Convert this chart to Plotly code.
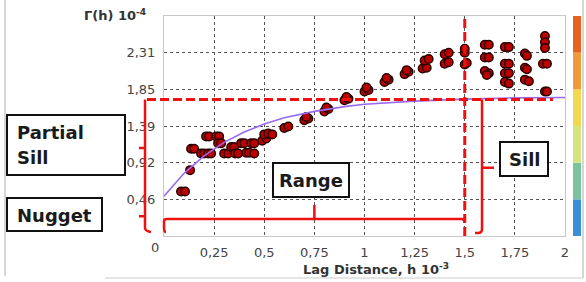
import plotly.graph_objects as go

# ---- data ----
lag_h = [0.085, 0.105, 0.13, 0.135, 0.15, 0.185, 0.20, 0.21, 0.225, 0.26, 0.275,
         0.22, 0.235, 0.27, 0.285, 0.30, 0.32, 0.335, 0.35, 0.355, 0.37,
         0.385, 0.40, 0.41, 0.425, 0.435, 0.45, 0.45,
         0.49, 0.51, 0.50, 0.52, 0.54, 0.60, 0.62, 0.70, 0.72, 0.71,
         0.80, 0.82, 0.81, 0.90, 0.92, 0.91, 1.00, 1.02, 1.01,
         1.10, 1.12, 1.11, 1.20, 1.22, 1.21, 1.29, 1.31, 1.30, 1.32,
         1.40, 1.42, 1.40, 1.42, 1.50, 1.50, 1.50, 1.51,
         1.60, 1.62, 1.60, 1.62, 1.60, 1.62, 1.61,
         1.70, 1.72, 1.70, 1.72, 1.70, 1.72, 1.70, 1.72,
         1.80, 1.81, 1.80, 1.81, 1.80, 1.82,
         1.90, 1.90, 1.90, 1.89, 1.91, 1.90, 1.91]
gamma = [0.56, 0.56, 0.83, 1.10, 1.10, 1.04, 1.04, 1.255, 1.255, 1.255, 1.255,
         1.04, 1.04, 1.17, 1.17, 1.04, 1.04, 1.12, 1.12, 1.04, 1.04,
         1.17, 1.17, 1.05, 1.05, 1.17, 1.17, 1.04,
         1.20, 1.23, 1.28, 1.29, 1.28, 1.36, 1.38, 1.46, 1.48, 1.50,
         1.57, 1.60, 1.62, 1.71, 1.73, 1.75, 1.82, 1.84, 1.87,
         1.94, 1.97, 1.99, 2.04, 2.07, 2.09, 2.11, 2.12, 2.21, 2.23,
         2.17, 2.19, 2.29, 2.31, 2.31, 2.36, 2.16, 2.18,
         2.41, 2.41, 2.25, 2.25, 2.08, 2.05, 2.03,
         2.38, 2.38, 2.17, 2.17, 2.05, 2.05, 1.94, 1.92,
         2.30, 2.27, 2.12, 2.10, 1.97, 1.95,
         2.52, 2.44, 2.37, 2.17, 2.17, 1.82, 1.82]

model_h = [0, 0.1, 0.2, 0.3, 0.4, 0.5, 0.6, 0.75, 0.9, 1.0, 1.25, 1.5, 1.75, 2.0]
model_g = [0.50, 0.79, 1.01, 1.18, 1.31, 1.41, 1.49, 1.57, 1.63, 1.66, 1.70, 1.725, 1.74, 1.745]

x_ticks = [0.25, 0.5, 0.75, 1, 1.25, 1.5, 1.75, 2]
x_tick_text = ["0,25", "0,5", "0,75", "1", "1,25", "1,5", "1,75", "2"]
y_ticks = [0.462, 0.924, 1.386, 1.848, 2.31]
y_tick_text = ["0,46", "0,92", "1,39", "1,85", "2,31"]

nugget = 0.5
sill = 1.72
range_h = 1.5
y_max = 2.772
x_max = 2.0
band_colors = ["#3a8fd8", "#7cc29e", "#d6e47e", "#f0d850", "#f09a3c", "#e8641e"]

# ---- layout geometry (pixels) ----
W, H = 586, 282
L, R, T, B = 164, 21, 16, 46
PW, PH = W - L - R, H - T - B


def PX(px):
    return (px - L) / PW


def PY(py):
    return (H - B - py) / PH


def xp(v):
    return v / x_max


def yp(v):
    return v / y_max


dx = 1 / PW
dy = 1 / PH

fig = go.Figure()
fig.add_trace(go.Scatter(
    x=lag_h, y=gamma, mode="markers",
    marker=dict(size=8.5, color="#bb0000", line=dict(color="#2a0000", width=1.5)),
    showlegend=False, cliponaxis=False))
fig.add_trace(go.Scatter(
    x=model_h, y=model_g, mode="lines",
    line=dict(color="#9a6af0", width=1.6), showlegend=False))

RED = "#ee1111"
shapes = []
# colour bar
for i, c in enumerate(band_colors):
    shapes.append(dict(type="rect", xref="paper", yref="paper",
                       x0=PX(573), x1=PX(581), y0=i / 6, y1=(i + 1) / 6,
                       line=dict(width=0), fillcolor=c))
# outer frame
shapes.append(dict(type="line", xref="paper", yref="paper", x0=PX(5), x1=PX(5),
                   y0=PY(0), y1=PY(276), line=dict(color="#c8c8c8", width=1.5)))
shapes.append(dict(type="line", xref="paper", yref="paper", x0=PX(583), x1=PX(583),
                   y0=PY(0), y1=PY(278), line=dict(color="#c8c8c8", width=1.5)))
shapes.append(dict(type="line", xref="paper", yref="paper", x0=PX(105), x1=PX(583),
                   y0=PY(278), y1=PY(278), line=dict(color="#dddddd", width=1.5)))

# sill dashed line
shapes.append(dict(type="line", xref="paper", yref="paper", x0=PX(147), x1=xp(1.94),
                   y0=yp(sill), y1=yp(sill), line=dict(color=RED, width=3, dash="9px,4px")))
# range dashed line
shapes.append(dict(type="line", xref="paper", yref="paper", x0=xp(range_h), x1=xp(range_h),
                   y0=0, y1=1, line=dict(color=RED, width=3, dash="9px,4px")))

# left brace (partial sill + nugget)
xl = PX(145)
yb = PY(231)
mid_ps = yp((sill + nugget) / 2)
mid_ng = yp(nugget / 2)
path = (f"M{xl},{yp(sill)} L{xl},{yb + 3*dy} Q{xl},{yb} {xl + 6*dx},{yb - 1*dy} "
        f"M{xl},{mid_ps} L{xl - 6*dx},{mid_ps} "
        f"M{xl},{mid_ng} L{xl - 6*dx},{mid_ng}")
shapes.append(dict(type="path", xref="paper", yref="paper", path=path,
                   line=dict(color=RED, width=2.5)))

# range brace
yr = PY(219)
ybot = PY(232)
path = (f"M{xp(0) + 2*dx},{ybot} Q{xp(0)},{ybot} {xp(0)},{ybot + 4*dy} L{xp(0)},{yr - 2*dy} "
        f"Q{xp(0)},{yr} {xp(0) + 3*dx},{yr} L{xp(range_h) - 3*dx},{yr} "
        f"Q{xp(range_h)},{yr} {xp(range_h)},{yr - 4*dy} "
        f"M{xp(range_h / 2)},{yr} L{xp(range_h / 2)},{PY(205)}")
shapes.append(dict(type="path", xref="paper", yref="paper", path=path,
                   line=dict(color=RED, width=2.5)))

# sill brace
xs = PX(482)
ys_mid = yp(sill / 2)
path = (f"M{xs},{yp(sill)} L{xs},{PY(229)} Q{xs},{PY(233)} {xs - 4*dx},{PY(233)} L{PX(475)},{PY(233)} "
        f"M{xs},{ys_mid} L{PX(494)},{ys_mid}")
shapes.append(dict(type="path", xref="paper", yref="paper", path=path,
                   line=dict(color=RED, width=2.5)))

# label boxes
for (x0, x1, y0, y1) in [(7, 125, 115, 175), (7, 102, 198, 231), (273, 349, 163, 197), (500, 548, 142, 176)]:
    shapes.append(dict(type="rect", xref="paper", yref="paper",
                       x0=PX(x0), x1=PX(x1), y0=PY(y1), y1=PY(y0),
                       line=dict(color="#111111", width=2), fillcolor="white"))

BOXFONT = dict(family="DejaVu Sans", size=18, color="#1a1a1a")
annotations = [
    dict(text="<b>Partial</b>", x=PX(15), y=PY(132), xanchor="left", yanchor="middle"),
    dict(text="<b>Sill</b>", x=PX(15), y=PY(157), xanchor="left", yanchor="middle"),
    dict(text="<b>Nugget</b>", x=PX(15), y=PY(215), xanchor="left", yanchor="middle"),
    dict(text="<b>Range</b>", x=PX(311), y=PY(180), xanchor="center", yanchor="middle"),
    dict(text="<b>Sill</b>", x=PX(524), y=PY(159), xanchor="center", yanchor="middle"),
]
for a in annotations:
    a.update(xref="paper", yref="paper", showarrow=False, font=BOXFONT)

annotations += [
    dict(text="<b>Γ(h) 10<sup>-4</sup></b>", x=PX(148), y=PY(15), xanchor="right", yanchor="middle",
         xref="paper", yref="paper", showarrow=False,
         font=dict(family="DejaVu Sans", size=13, color="#333333")),
    dict(text="<b>Lag Distance, h 10<sup>-3</sup></b>", x=PX(376), y=PY(269), xanchor="center",
         yanchor="middle", xref="paper", yref="paper", showarrow=False,
         font=dict(family="DejaVu Sans", size=13, color="#333333")),
    dict(text="0", x=PX(155), y=PY(247), xanchor="center", yanchor="middle",
         xref="paper", yref="paper", showarrow=False,
         font=dict(family="DejaVu Sans", size=13, color="#444444")),
]

fig.update_layout(
    width=W, height=H,
    margin=dict(l=L, r=R, t=T, b=B, pad=0),
    paper_bgcolor="white", plot_bgcolor="white",
    shapes=shapes, annotations=annotations,
    font=dict(family="DejaVu Sans", size=13, color="#444444"),
    xaxis=dict(range=[0, x_max], tickvals=x_ticks, ticktext=x_tick_text,
               showgrid=True, gridcolor="#555555", griddash="dot", gridwidth=1,
               showline=True, linecolor="#c8c8c8", mirror=True, zeroline=False,
               ticks="", ticklabelstandoff=4),
    yaxis=dict(range=[0, y_max], tickvals=y_ticks, ticktext=y_tick_text,
               showgrid=True, gridcolor="#555555", griddash="dot", gridwidth=1,
               showline=True, linecolor="#c8c8c8", mirror=True, zeroline=False,
               ticks="", ticklabelstandoff=5),
)

fig.write_html("out.html")
